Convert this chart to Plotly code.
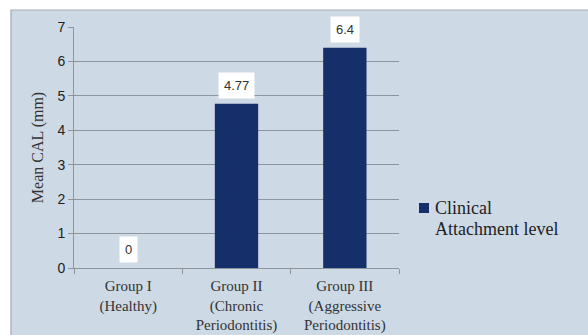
import plotly.graph_objects as go

# Mean clinical attachment level per study group
categories = ["Group I<br>(Healthy)", "Group II<br>(Chronic<br>Periodontitis)", "Group III<br>(Aggressive<br>Periodontitis)"]
cal_values = [0, 4.77, 6.4]
value_labels = ["0", "4.77", "6.4"]
legend_lines = ["Clinical", "Attachment level"]
y_ticks = [0, 1, 2, 3, 4, 5, 6, 7]

BAR_COLOR = "#142F69"
PANEL_BG = "#CDD9E5"
GRID = "#8E959C"
SERIF = "Liberation Serif, Times New Roman, serif"
SANS = "Liberation Sans, Arial, sans-serif"

fig = go.Figure()
fig.add_trace(go.Bar(
    x=categories,
    y=cal_values,
    name=" ".join(legend_lines),
    marker=dict(color=BAR_COLOR, line=dict(width=0)),
    width=0.4,
    showlegend=False,
))

# value labels in white boxes above each bar
for cat, val, lab in zip(categories, cal_values, value_labels):
    fig.add_annotation(
        x=cat, y=val, text=lab, showarrow=False,
        yanchor="bottom", yshift=5,
        bgcolor="white", borderpad=5,
        font=dict(family=SANS, size=13, color="#333333"),
    )

# light panel behind the chart with a thin border
fig.add_shape(
    type="rect", xref="paper", yref="paper",
    x0=-0.194, x1=1.62, y0=-0.32, y1=1.0705,
    fillcolor=PANEL_BG, line=dict(color="#A3ABB3", width=1.2),
    layer="below",
)

# legend: swatch plus two text lines
fig.add_shape(
    type="rect", xref="paper", yref="paper",
    x0=1.0615, x1=1.0923, y0=0.2282, y1=0.2697,
    fillcolor=BAR_COLOR, line=dict(width=0),
)
for line, ypos in zip(legend_lines, [0.2469, 0.1598]):
    fig.add_annotation(
        xref="paper", yref="paper", x=1.1046, y=ypos,
        xanchor="left", yanchor="middle", showarrow=False,
        text=line, align="left",
        font=dict(family=SERIF, size=18, color="#222222"),
    )

fig.update_layout(
    width=588, height=335,
    margin=dict(l=74, r=189, t=27, b=67),
    paper_bgcolor="white",
    plot_bgcolor="rgba(0,0,0,0)",
    showlegend=False,
    xaxis=dict(
        type="category", automargin=False,
        showline=True, linecolor=GRID, linewidth=1,
        ticks="outside", tickson="boundaries", ticklen=5, tickcolor=GRID,
        ticklabelstandoff=4,
        tickfont=dict(family=SERIF, size=15, color="#333333"),
        showgrid=False,
    ),
    yaxis=dict(
        range=[0, 7], tickvals=y_ticks, automargin=False,
        showline=True, linecolor=GRID, linewidth=1,
        ticks="outside", ticklen=5, tickcolor=GRID,
        showgrid=True, gridcolor=GRID, gridwidth=1,
        zeroline=False,
        tickfont=dict(family=SANS, size=14, color="#222222"),
        title=dict(text="Mean CAL (mm)", standoff=9,
                   font=dict(family=SERIF, size=16, color="#333333")),
    ),
)

fig.write_html("out.html")
